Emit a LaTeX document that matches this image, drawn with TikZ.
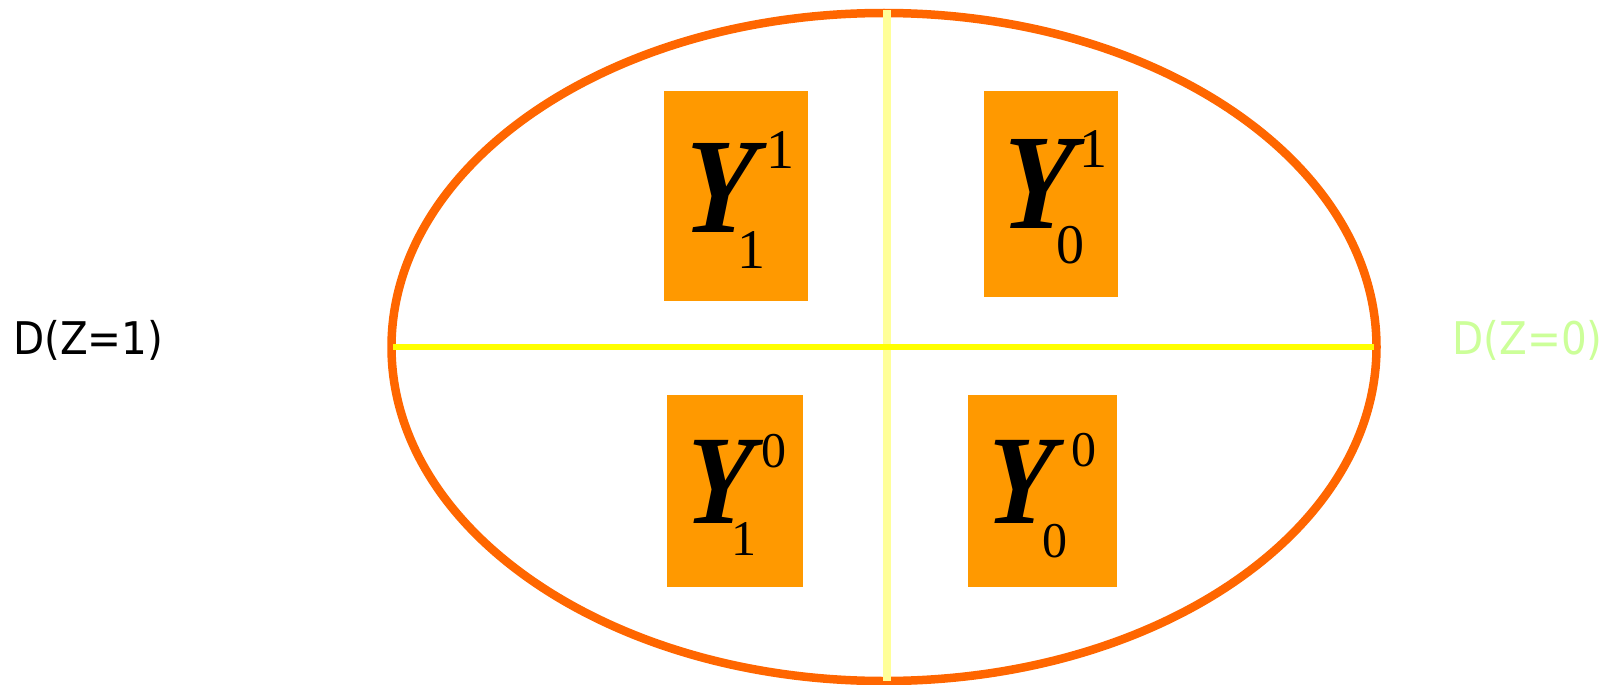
\documentclass[tikz,border=0pt]{standalone}
\usepackage{fontspec}
\usetikzlibrary{shapes.geometric}
\newfontfamily\tms{Liberation Serif}
\newfontfamily\lblfont[FakeStretch=0.9]{DejaVu Sans}
\definecolor{ellorange}{HTML}{FF6600}
\definecolor{boxorange}{HTML}{FF9900}
\definecolor{paleyellow}{HTML}{FFFF99}
\definecolor{brightyellow}{HTML}{FFFF00}
\definecolor{palegreen}{HTML}{CCFF99}
\newcommand{\narrowY}{\scalebox{0.86}[1]{Y}}
\begin{document}
\begin{tikzpicture}[x=1pt,y=-1pt,
  cellbox/.style={fill=boxorange,draw=none,inner sep=0pt,anchor=north west},
  bigY/.style={inner sep=0pt,anchor=base,xslant=0.05,transform shape,font=\tms\bfseries\itshape\fontsize{#1}{#1}\selectfont},
  idx/.style={inner sep=0pt,anchor=base,font=\tms\fontsize{#1}{#1}\selectfont},
  sidelabel/.style={inner sep=0pt,font=\lblfont\fontsize{45}{50}\selectfont}]
\useasboundingbox (0,0) rectangle (1610,685);
% ellipse
\node[draw=ellorange,line width=8.5pt,ellipse,minimum width=985pt,minimum height=668pt,inner sep=0pt] (ell) at (884,347) {};
% dividing lines
\coordinate (vt) at (887,10);
\coordinate (vb) at (887,681);
\coordinate (hl) at (393,347);
\coordinate (hr) at (1374,347);
\draw[paleyellow,line width=8pt] (vt) -- (vb);
\draw[brightyellow,line width=6pt] (hl) -- (hr);
% boxes
\node[cellbox,minimum width=144pt,minimum height=210pt] (b1) at (664,91) {};
\node[cellbox,minimum width=134pt,minimum height=206pt] (b2) at (984,91) {};
\node[cellbox,minimum width=136pt,minimum height=192pt] (b3) at (667,395) {};
\node[cellbox,minimum width=149pt,minimum height=192pt] (b4) at (968,395) {};
% box 1
\node[bigY=136] (y1) at (718,232) {\narrowY};
\node[idx=56] (p1) at (780,168) {1};
\node[idx=56] (q1) at (751,268) {1};
% box 2
\node[bigY=136] (y2) at (1036,228) {\narrowY};
\node[idx=56] (p2) at (1093,167) {1};
\node[idx=56] (q2) at (1070,263) {0};
% box 3
\node[bigY=127] (y3) at (718,523) {\narrowY};
\node[idx=50] (p3) at (774,467) {0};
\node[idx=50] (q3) at (744,555) {1};
% box 4
\node[bigY=127] (y4) at (1019,523) {\narrowY};
\node[idx=50] (p4) at (1084,466) {0};
\node[idx=50] (q4) at (1055,557) {0};
% side labels
\node[sidelabel,anchor=base west] (dl) at (13,354) {D(Z=1)};
\node[sidelabel,anchor=base east,text=palegreen] (dr) at (1603,354) {D(Z=0)};
\end{tikzpicture}
\end{document}
